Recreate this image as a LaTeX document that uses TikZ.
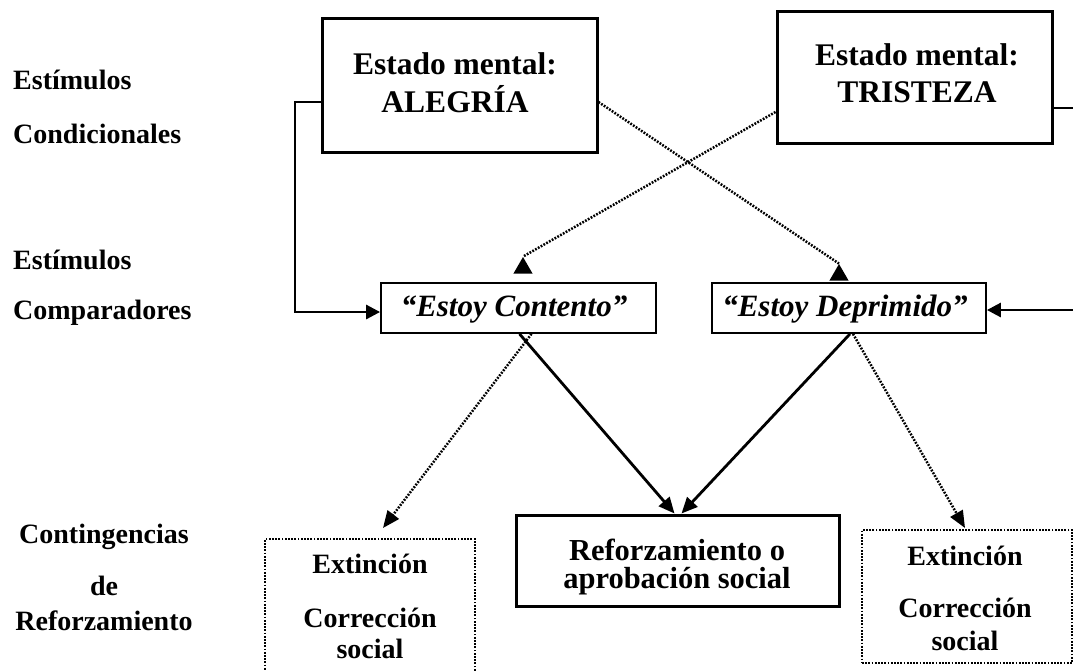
\documentclass[tikz,border=0pt]{standalone}
\usepackage{fontspec}
\setmainfont{Liberation Serif}
\usetikzlibrary{arrows.meta,shapes.geometric}
\begin{document}
\begin{tikzpicture}[x=1pt,y=-1pt,
  boxthick/.style={draw,line width=3pt,inner sep=0pt},
  boxthin/.style={draw,line width=1.8pt,inner sep=0pt},
  boxdot/.style={draw,line width=2.2pt,dash pattern=on 1.8pt off 1.4pt,inner sep=0pt},
  ttl/.style={font=\bfseries\fontsize{31.5}{31.5}\selectfont,anchor=base,inner sep=0pt},
  say/.style={font=\bfseries\itshape\fontsize{31}{31}\selectfont,anchor=base,inner sep=0pt},
  reftxt/.style={font=\bfseries\fontsize{30.5}{30.5}\selectfont,anchor=base,inner sep=0pt},
  ctxt/.style={font=\bfseries\fontsize{28}{28}\selectfont,anchor=base,inner sep=0pt},
  lab/.style={font=\bfseries\fontsize{28}{28}\selectfont,anchor=base west,inner sep=0pt},
  labc/.style={font=\bfseries\fontsize{28}{28}\selectfont,anchor=base,inner sep=0pt},
  marker/.style={regular polygon,regular polygon sides=3,fill=black,draw=none,inner sep=0pt,minimum size=22pt},
  solidline/.style={line width=2.8pt},
  solidarrow/.style={line width=2.8pt,-{Triangle[length=16pt,width=14pt]}},
  dotline/.style={line width=2.5pt,dash pattern=on 1.8pt off 1.4pt},
  dotarrow/.style={line width=2.5pt,dash pattern=on 1.8pt off 1.4pt,-{Triangle[length=17pt,width=14pt]}}
]
\useasboundingbox (0,0) rectangle (1073,670);
\clip (0,0) rectangle (1073,670);

% left labels
\node[lab] (l1) at (13,89) {Estímulos};
\node[lab] (l2) at (13,143) {Condicionales};
\node[lab] (l3) at (13,269) {Estímulos};
\node[lab] (l4) at (13,319) {Comparadores};
\node[labc] (l5) at (104,543) {Contingencias};
\node[labc] (l6) at (104,595) {de};
\node[labc] (l7) at (104,630) {Reforzamiento};

% boxes
\node[boxthick,minimum width=275pt,minimum height=134pt] (ale) at (459.5,85) {};
\node[boxthick,minimum width=275pt,minimum height=132pt] (tri) at (914.5,77) {};
\node[boxthin,minimum width=275pt,minimum height=50pt] (con) at (518.5,308) {};
\node[boxthin,minimum width=274pt,minimum height=50pt] (dep) at (849,308) {};
\node[boxthick,minimum width=323pt,minimum height=91pt] (ref) at (677.5,560.5) {};
\node[boxdot,minimum width=210pt,minimum height=136pt] (ext1) at (370,607) {};
\node[boxdot,minimum width=210pt,minimum height=133pt] (ext2) at (967,596.5) {};

% texts
\node[ttl] (a1) at (455,74) {Estado mental:};
\node[ttl] (a2) at (455,112) {ALEGRÍA};
\node[ttl] (b1) at (917,65) {Estado mental:};
\node[ttl] (b2) at (917,102) {TRISTEZA};
\node[say] (c1) at (514,316) {“Estoy Contento”};
\node[say] (d1) at (845,316) {“Estoy Deprimido”};
\node[reftxt] (r1) at (677,560) {Reforzamiento o};
\node[reftxt] (r2) at (677,588) {aprobación social};
\node[ctxt] (x1) at (370,573) {Extinción};
\node[ctxt] (x2) at (370,627) {Corrección};
\node[ctxt] (x3) at (370,658) {social};
\node[ctxt] (y1) at (965,565) {Extinción};
\node[ctxt] (y2) at (965,617) {Corrección};
\node[ctxt] (y3) at (965,650) {social};

% triangle markers
\node[marker] (t1) at (839,275) {};
\node[marker] (t2) at (523,268) {};

% coordinates
\coordinate (lk) at (295,102);
\coordinate (lb) at (295,312);
\coordinate (rk) at (1090,108);
\coordinate (rb) at (1090,310);
\coordinate (tk) at (777,112);
\coordinate (e1) at (383,528);
\coordinate (e2) at (965,528);

% connectors
\draw[solidline,-{Triangle[length=14pt,width=14pt]}] (ale.west |- lk) -- (lk) -- (lb) -- (con.west |- lb);
\draw[solidline,-{Triangle[length=14pt,width=14pt]}] (tri.east |- rk) -- (rk) -- (rb) -- (dep.east |- rb);
\draw[dotline] (ale.east |- lk) -- (t1.north);
\draw[dotline] (tri.west |- tk) -- (t2.north);
\draw[solidarrow] ([xshift=1pt]con.south) -- ([xshift=-3pt]ref.north);
\draw[solidarrow] ([xshift=1pt]dep.south) -- ([xshift=4pt]ref.north);
\draw[dotarrow] ([xshift=13pt]con.south) -- (e1);
\draw[dotarrow] ([xshift=4pt]dep.south) -- (e2);
\end{tikzpicture}
\end{document}
